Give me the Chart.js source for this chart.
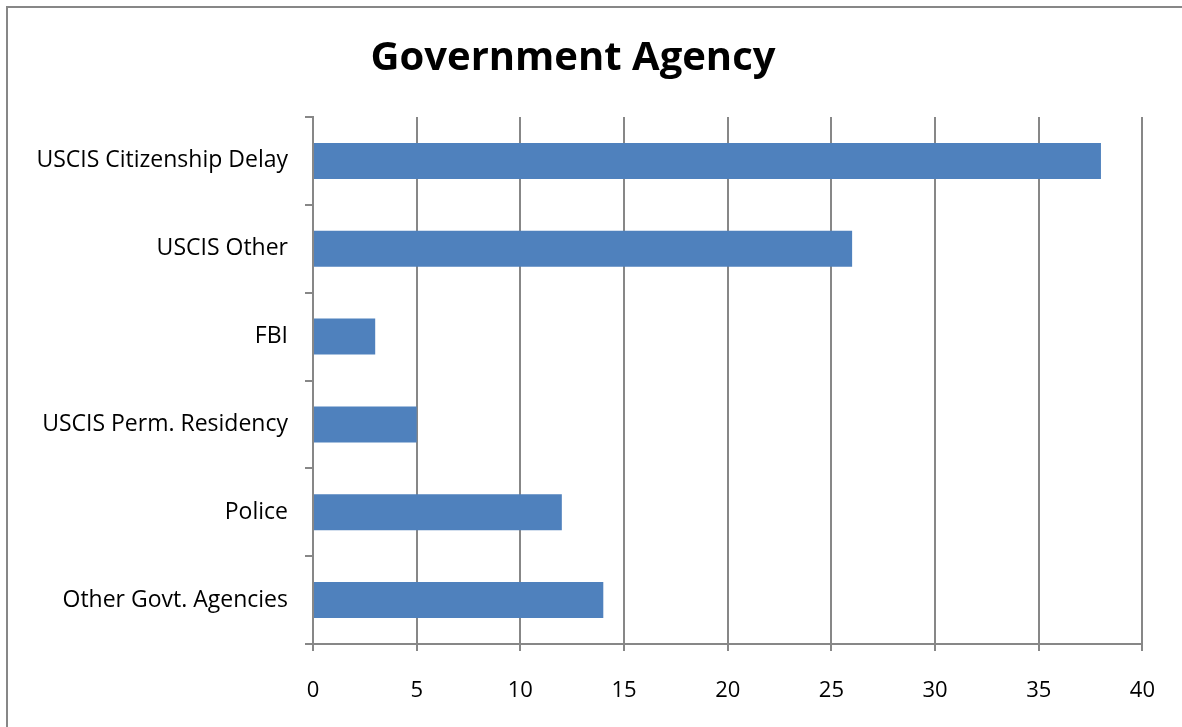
<!DOCTYPE html>
<html>
<head>
<meta charset="utf-8">
<script src="https://cdn.jsdelivr.net/npm/chart.js@4"></script>
<style>
  html, body { margin: 0; padding: 0; background: #fff; }
  #wrap { position: relative; width: 1182px; height: 727px; overflow: hidden; }
  #frame { position: absolute; left: 6px; top: 6px; width: 1200px; height: 740px;
           border-left: 2px solid #878787; border-top: 2px solid #878787; }
  canvas { position: absolute; left: 0; top: 0; }
</style>
</head>
<body>
<div id="wrap">
  <div id="frame"></div>
  <canvas id="chart" width="1182" height="727"></canvas>
</div>
<script>
// Government Agency — horizontal bar chart

const categories = [
  'USCIS Citizenship Delay',
  'USCIS Other',
  'FBI',
  'USCIS Perm. Residency',
  'Police',
  'Other Govt. Agencies'
];
const counts = [38, 26, 3, 5, 12, 14];
const xTicks = [0, 5, 10, 15, 20, 25, 30, 35, 40];

const GRID = '#878787';
const BAR = '#4f81bd';
const FONT = '"Open Sans", Lato, sans-serif';

new Chart(document.getElementById('chart'), {
  type: 'bar',
  data: {
    labels: categories,
    datasets: [{
      data: counts,
      backgroundColor: BAR,
      borderWidth: 0,
      categoryPercentage: 1,
      barPercentage: 0.41
    }]
  },
  options: {
    indexAxis: 'y',
    responsive: false,
    animation: false,
    layout: { padding: { left: 0, right: 36, top: 0, bottom: 0 } },
    plugins: {
      legend: { display: false },
      tooltip: { enabled: false },
      title: {
        display: true,
        text: 'Government Agency',
        color: '#000',
        font: { family: FONT, size: 40, weight: 'bold' },
        padding: { top: 35, bottom: 34 }
      }
    },
    scales: {
      x: {
        min: 0, max: 40,
        afterBuildTicks: s => { s.ticks = xTicks.map(v => ({ value: v })); },
        afterFit: s => { s.height = 83; },
        grid: { color: GRID, lineWidth: 2, tickLength: 7, drawTicks: true },
        border: { color: GRID, width: 2 },
        ticks: { color: '#000', padding: 27, font: { family: FONT, size: 22 } }
      },
      y: {
        afterFit: s => { s.width = 313; },
        grid: { offset: true, drawOnChartArea: false, color: GRID, lineWidth: 2, tickLength: 8 },
        border: { color: GRID, width: 2 },
        ticks: { color: '#000', padding: 17, font: { family: FONT, size: 23 } }
      }
    }
  }
});
</script>
</body>
</html>
